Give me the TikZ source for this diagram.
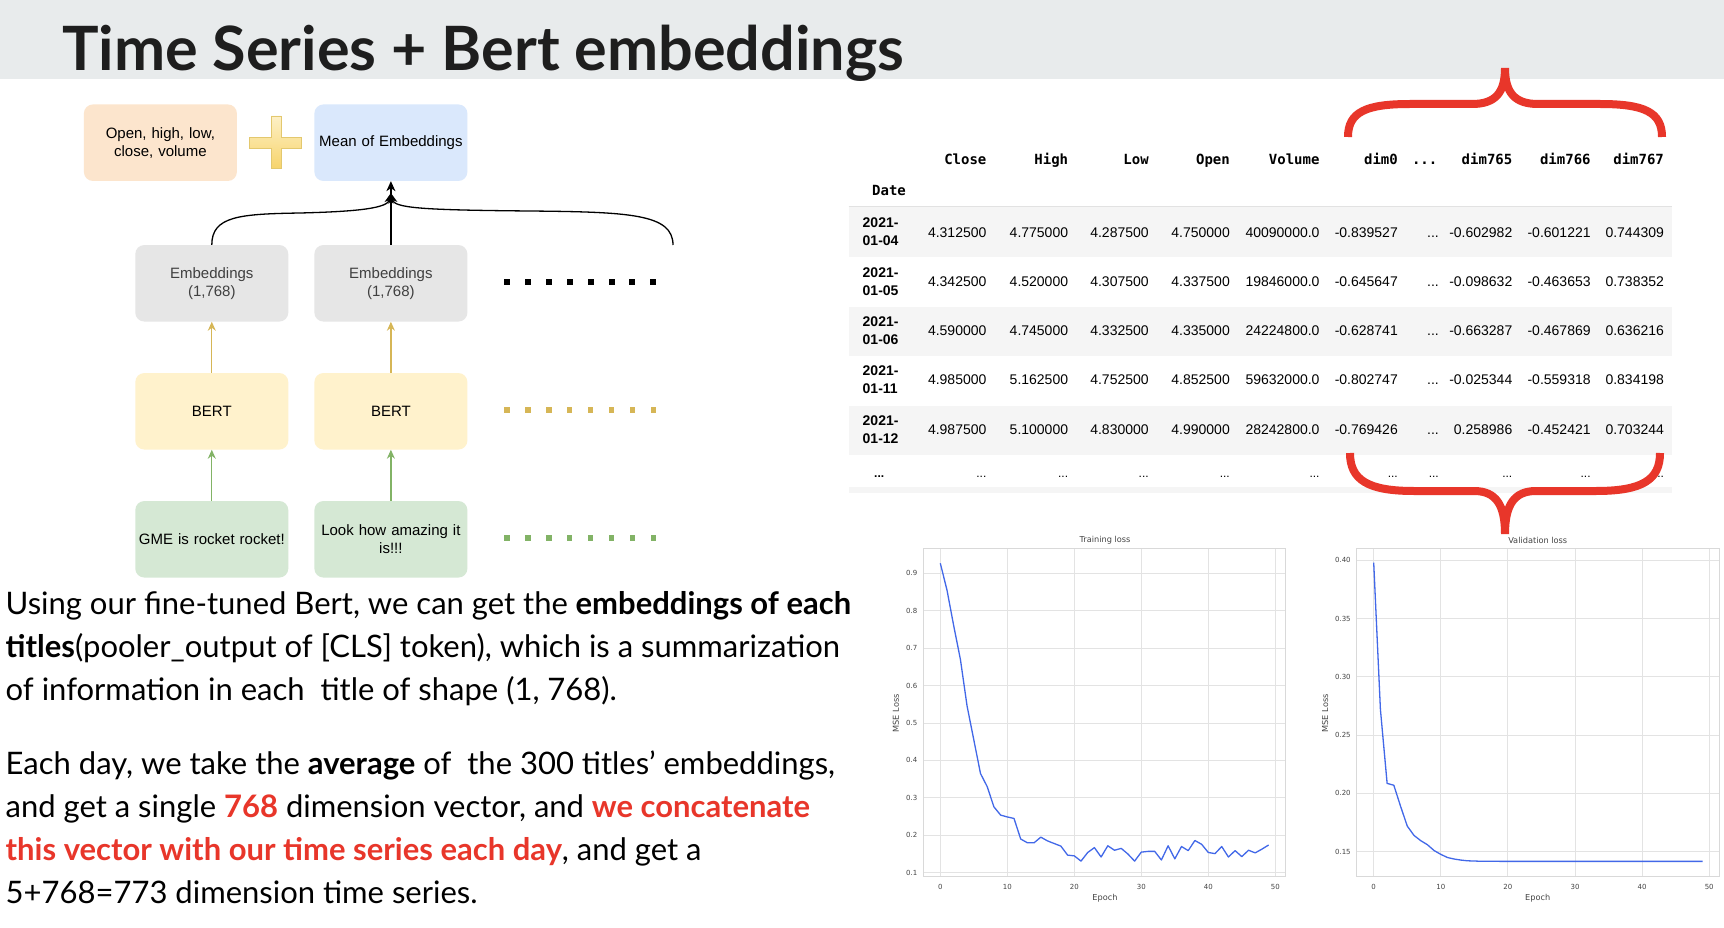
\documentclass[tikz,border=0pt]{standalone}
\usepackage{fontspec}
\setmainfont{Lato}
\newfontfamily\boxfont{Liberation Sans}
\newfontfamily\tabmono{DejaVu Sans Mono}
\newfontfamily\plotfont{DejaVu Sans}
\usetikzlibrary{arrows.meta}

\definecolor{headbar}{HTML}{E8EBEC}
\definecolor{titleink}{HTML}{1E1E1E}
\definecolor{orangefill}{HTML}{FCE5CD}
\definecolor{bluefill}{HTML}{DAE8FC}
\definecolor{grayfill}{HTML}{E6E6E6}
\definecolor{yellowfill}{HTML}{FFF2CC}
\definecolor{greenfill}{HTML}{D5E8D4}
\definecolor{goldline}{HTML}{D6B656}
\definecolor{greenline}{HTML}{82B366}
\definecolor{plustop}{HTML}{FDF0C6}
\definecolor{plusbot}{HTML}{F7D46C}
\definecolor{plusedge}{HTML}{E3C86E}
\definecolor{rowshade}{HTML}{F5F5F5}
\definecolor{rowline}{HTML}{E2E2E2}
\definecolor{bracered}{HTML}{E8362A}
\definecolor{hilite}{HTML}{E8362A}
\definecolor{gridgray}{HTML}{E3E3E3}
\definecolor{framegray}{HTML}{D9D9D9}
\definecolor{plotink}{HTML}{444444}
\definecolor{lossblue}{RGB}{66,104,232}

\begin{document}
\begin{tikzpicture}[x=1pt,y=-1pt,
  box/.style={rounded corners=9pt, minimum width=153pt, minimum height=76.5pt,
    inner sep=0pt, align=center, text width=148pt,
    font=\boxfont\fontsize{15}{18}\selectfont},
  blkarrow/.style={draw=black, line width=1.3pt, -{Stealth[length=10pt,width=9pt,inset=3pt]}},
  goldarrow/.style={draw=goldline, line width=1.2pt, -{Stealth[length=9pt,width=8pt,inset=3pt]}},
  greenarrow/.style={draw=greenline, line width=1.2pt, -{Stealth[length=9pt,width=8pt,inset=3pt]}},
  colhead/.style={anchor=east, inner sep=0pt, text height=10.5pt, text depth=3pt,
    font=\tabmono\bfseries\fontsize{14}{16}\selectfont},
  cell/.style={anchor=east, inner sep=0pt, text height=10.1pt, text depth=0pt,
    font=\boxfont\fontsize{14}{16}\selectfont},
  datecell/.style={anchor=west, inner sep=0pt, align=left, font=\boxfont\bfseries\fontsize{14}{18}\selectfont},
  tick/.style={inner sep=0pt, text=plotink, font=\plotfont\fontsize{7}{8}\selectfont},
  plotlabel/.style={inner sep=0pt, text=plotink, font=\plotfont\fontsize{8.2}{9}\selectfont},
  bodyline/.style={anchor=base west, inner sep=0pt, font=\fontsize{31}{36}\selectfont},
  brace/.style={draw=bracered, line width=8pt}
]
% page
\useasboundingbox (0,0) rectangle (1724,928);
\fill[white] (0,0) rectangle (1724,928);
\fill[headbar] (0,0) rectangle (1724,79.3);
\node[anchor=base west, inner sep=0pt, text=titleink] (title) at (62,70.5)
  {\resizebox{842pt}{!}{\fontsize{61.5}{70}\selectfont\bfseries Time Series + Bert embeddings}};

% ---------- pipeline diagram ----------
\node[box, fill=orangefill] (ohlcv) at (160.4,142.7) {Open, high, low,\\close, volume};
\node[box, fill=bluefill] (mean) at (390.9,142.7) {Mean of Embeddings};
\node[box, fill=grayfill, text=black!75] (emb1) at (211.8,283.3) {Embeddings\\(1,768)};
\node[box, fill=grayfill, text=black!75] (emb2) at (390.9,283.3) {Embeddings\\(1,768)};
\node[box, fill=yellowfill] (bert1) at (211.8,411.3) {BERT};
\node[box, fill=yellowfill] (bert2) at (390.9,411.3) {BERT};
\node[box, fill=greenfill] (gme1) at (211.8,539.3) {GME is rocket rocket!};
\node[box, fill=greenfill] (gme2) at (390.9,539.3) {Look how amazing it\\is!!!};

% plus sign between the two top boxes
\shade[top color=plustop, bottom color=plusbot, draw=plusedge, line width=0.5pt]
  (249,137.3) -- (271,137.3) -- (271,116) -- (281,116) -- (281,137.3) -- (301.5,137.3)
  -- (301.5,148.3) -- (281,148.3) -- (281,168.3) -- (271,168.3) -- (271,148.3) -- (249,148.3) -- cycle;

% arrows
\draw[greenarrow] (gme1.north) -- (bert1.south);
\draw[greenarrow] (gme2.north) -- (bert2.south);
\draw[goldarrow] (bert1.north) -- (emb1.south);
\draw[goldarrow] (bert2.north) -- (emb2.south);
\coordinate (merge) at (390.9,193);
\coordinate (farright) at (673,245);
\draw[blkarrow] (emb1.north) .. controls (211.8,216) and (240,214) .. (300,213)
  .. controls (360,211.5) and (388,208) .. (merge);
\draw[blkarrow] (farright) .. controls (673,214) and (630,212) .. (530,211)
  .. controls (420,210) and (394,208) .. (merge);
\draw[blkarrow] (emb2.north) -- (mean.south);

% dotted continuation rows
\foreach \i in {0,...,7} {
  \fill[black] ({507+\i*20.9-3},278.7) rectangle ++(6,6);
  \fill[goldline] ({507+\i*20.9-2.7},407.3) rectangle ++(5.4,5.4);
  \fill[greenline] ({507+\i*20.9-2.7},535.4) rectangle ++(5.4,5.4);
}

% ---------- data table ----------
\fill[rowshade] (848.5,207.3) rectangle (1671.5,257.3);
\fill[rowshade] (848.5,306.7) rectangle (1671.5,356.3);
\fill[rowshade] (848.5,405.7) rectangle (1671.5,455);
\fill[rowshade] (848.5,486.7) rectangle (1671.5,493);
\draw[rowline, line width=1pt] (848.5,207) -- (1671.5,207);

\foreach \t/\x in {Close/986.6, High/1068.3, Low/1148.9, Open/1230, Volume/1319.7,
                   dim0/1398, dim765/1512.5, dim766/1590.8, dim767/1664.1}
  \node[colhead] at (\x,160.5) {\t};
\node[colhead] (skiphead) at (1437.5,160.5) {...};
\node[colhead, anchor=west] (datehead) at (872,192) {Date};

\foreach \d/\y/\a/\b/\c/\e/\v/\f/\g/\h/\k in {
   01-04/232/4.312500/4.775000/4.287500/4.750000/40090000.0/-0.839527/-0.602982/-0.601221/0.744309,
   01-05/281.5/4.342500/4.520000/4.307500/4.337500/19846000.0/-0.645647/-0.098632/-0.463653/0.738352,
   01-06/330.5/4.590000/4.745000/4.332500/4.335000/24224800.0/-0.628741/-0.663287/-0.467869/0.636216,
   01-11/379.7/4.985000/5.162500/4.752500/4.852500/59632000.0/-0.802747/-0.025344/-0.559318/0.834198,
   01-12/429.3/4.987500/5.100000/4.830000/4.990000/28242800.0/-0.769426/0.258986/-0.452421/0.703244} {
  \node[datecell] at (862.5,\y) {2021-\\\d};
  \node[cell] at (986.6,\y) {\a};
  \node[cell] at (1068.3,\y) {\b};
  \node[cell] at (1148.9,\y) {\c};
  \node[cell] at (1230,\y) {\e};
  \node[cell] at (1319.7,\y) {\v};
  \node[cell] at (1398,\y) {\f};
  \node[cell] at (1439,\y) {...};
  \node[cell] at (1512.5,\y) {\g};
  \node[cell] at (1590.8,\y) {\h};
  \node[cell] at (1664.1,\y) {\k};
}
\node[cell, anchor=west, font=\boxfont\bfseries\fontsize{12}{14}\selectfont] at (874,472.8) {...};
\foreach \x in {986.6,1068.3,1148.9,1230,1319.7,1398,1439,1512.5,1590.8,1664.1}
  \node[cell, font=\boxfont\fontsize{12}{14}\selectfont] at (\x,472.8) {...};

% red braces around the embedding columns
\draw[brace] (1348,137) .. controls (1348,112) and (1366,104) .. (1410,104) -- (1472,104)
  .. controls (1495,104) and (1505,93) .. (1505,68)
  .. controls (1505,93) and (1515,104) .. (1538,104) -- (1600,104)
  .. controls (1644,104) and (1662,112) .. (1662,137);
\draw[brace] (1350,453) .. controls (1350,480) and (1368,491) .. (1414,491) -- (1474,491)
  .. controls (1496,491) and (1505,505) .. (1505,534)
  .. controls (1505,505) and (1514,491) .. (1536,491) -- (1596,491)
  .. controls (1642,491) and (1660,480) .. (1660,453);

% ---------- training loss chart ----------
\begin{scope}[shift={(940.3,910.12)}, x=6.7pt, y=374.2pt]
  \foreach \e in {0,10,...,50} \draw[gridgray, line width=1pt] (\e,0.089) -- (\e,0.967);
  \foreach \v in {0.1,0.2,...,0.95} \draw[gridgray, line width=1pt] (-2.54,\v) -- (51.55,\v);
  \draw[framegray, line width=1pt] (-2.54,0.089) rectangle (51.55,0.967);
  \foreach \e in {0,10,...,50} \node[tick] at (\e,0.061) {\e};
  \foreach \v in {0.1,0.2,0.3,0.4,0.5,0.6,0.7,0.8,0.9} \node[tick, anchor=east] at (-3.4,\v) {\v};
  \draw[lossblue, line width=1.3pt, line join=round] plot coordinates {
    (0,0.927) (1,0.855) (2,0.76) (3,0.67) (4,0.545) (5,0.455) (6,0.365) (7,0.33)
    (8,0.276) (9,0.254) (10,0.249) (11,0.245) (12,0.19) (13,0.18) (14,0.18) (15,0.195)
    (16,0.185) (17,0.178) (18,0.171) (19,0.147) (20,0.145) (21,0.131) (22,0.154) (23,0.167)
    (24,0.142) (25,0.172) (26,0.16) (27,0.165) (28,0.15) (29,0.131) (30,0.155) (31,0.157)
    (32,0.157) (33,0.134) (34,0.172) (35,0.137) (36,0.17) (37,0.159) (38,0.186) (39,0.176)
    (40,0.154) (41,0.151) (42,0.17) (43,0.142) (44,0.159) (45,0.143) (46,0.16) (47,0.153)
    (48,0.163) (49,0.174)};
\end{scope}
\node[plotlabel] (trtitle) at (1105,540.7) {Training loss};
\node[plotlabel] (trx) at (1105,898.3) {Epoch};
\node[plotlabel, rotate=90] (try) at (896,713.3) {MSE Loss};

% ---------- validation loss chart ----------
\begin{scope}[shift={(1373.7,1026.54)}, x=6.71pt, y=1165.6pt]
  \foreach \e in {0,10,...,50} \draw[gridgray, line width=1pt] (\e,0.12915) -- (\e,0.4103);
  \foreach \v in {0.15,0.20,0.25,0.30,0.35,0.40} \draw[gridgray, line width=1pt] (-2.53,\v) -- (51.46,\v);
  \draw[framegray, line width=1pt] (-2.53,0.12915) rectangle (51.46,0.4103);
  \foreach \e in {0,10,...,50} \node[tick] at (\e,0.11946) {\e};
  \foreach \v in {0.15,0.20,0.25,0.30,0.35,0.40} \node[tick, anchor=east] at (-3.4,\v) {\v};
  \draw[lossblue, line width=1.3pt, line join=round] plot coordinates {
    (0,0.398) (1,0.272) (2,0.2086) (3,0.207) (4,0.189) (5,0.172) (6,0.164) (7,0.1595)
    (8,0.156) (9,0.151) (10,0.1477) (11,0.145) (12,0.1437) (13,0.1428) (14,0.1422)
    (15,0.142) (16,0.1418) (20,0.1417) (30,0.1417) (40,0.1417) (49,0.1417)};
\end{scope}
\node[plotlabel] (vatitle) at (1537.7,540.7) {Validation loss};
\node[plotlabel] (vax) at (1537.7,898.3) {Epoch};
\node[plotlabel, rotate=90] (vay) at (1325,713.3) {MSE Loss};

% ---------- explanatory text ----------
\node[bodyline] (l1) at (5.5,614.3) {Using our fine-tuned Bert, we can get the \textbf{embeddings of each}};
\node[bodyline] (l2) at (5.5,657.3) {\textbf{titles}(pooler\_output of [CLS] token), which is a summarization};
\node[bodyline] (l3) at (5.5,700.7) {of information in each~ title of shape (1, 768).};
\node[bodyline] (l4) at (5.5,774) {Each day, we take the \textbf{average} of~ the 300 titles’ embeddings,};
\node[bodyline] (l5) at (5.5,817.3) {and get a single \textcolor{hilite}{\textbf{768}} dimension vector, and \textcolor{hilite}{\textbf{we concatenate}}};
\node[bodyline] (l6) at (5.5,860.7) {\textcolor{hilite}{\textbf{this vector with our time series each day}}, and get a};
\node[bodyline] (l7) at (5.5,903.3) {5+768=773 dimension time series.};
\end{tikzpicture}
\end{document}
